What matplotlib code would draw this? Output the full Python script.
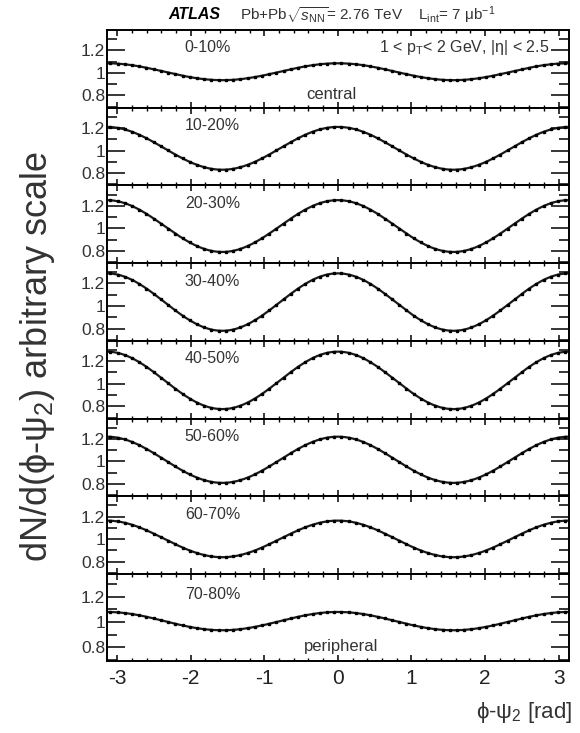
import numpy as np
import matplotlib
matplotlib.use("Agg")
import matplotlib.pyplot as plt
from matplotlib.ticker import MultipleLocator, FixedLocator

plt.rcParams['font.family'] = ['Liberation Sans', 'DejaVu Sans']
plt.rcParams['mathtext.fontset'] = 'custom'
plt.rcParams['mathtext.rm'] = 'Liberation Sans'
plt.rcParams['mathtext.it'] = 'Liberation Sans:italic'
plt.rcParams['mathtext.bf'] = 'Liberation Sans:bold'
plt.rcParams['axes.unicode_minus'] = False

# centrality bins, value of the modulation at phi-psi2 = 0 (peak) and at +-pi/2 (trough)
centrality = ['0-10%', '10-20%', '20-30%', '30-40%', '40-50%', '50-60%', '60-70%', '70-80%']
peak = [1.085, 1.21, 1.25, 1.29, 1.285, 1.22, 1.165, 1.08]
trough = [0.935, 0.83, 0.79, 0.78, 0.775, 0.81, 0.84, 0.935]
n_bins = 64

yticks = [0.8, 1.0, 1.2]
ytick_labels = ['0.8', '1', '1.2']
xticks = [-3, -2, -1, 0, 1, 2, 3]

fig = plt.figure(figsize=(5.8, 7.33), dpi=100)
gs = fig.add_gridspec(8, 1, height_ratios=[1]*7 + [1.12], hspace=0,
                      left=0.184, right=0.981, top=0.959, bottom=0.098)

edges = np.linspace(-np.pi, np.pi, n_bins + 1)
phi = 0.5*(edges[1:] + edges[:-1])
xx = np.linspace(-np.pi, np.pi, 400)

axes = []
for i in range(8):
    ax = fig.add_subplot(gs[i])
    axes.append(ax)
    mid = 0.5*(peak[i] + trough[i])
    amp = 0.5*(peak[i] - trough[i])
    ax.plot(xx, mid + amp*np.cos(2*xx), color='#1a1a1a', lw=1.6)
    ax.plot(phi, mid + amp*np.cos(2*phi), ls='none', marker='s', ms=2,
            color='black')
    ax.set_xlim(-np.pi, np.pi)
    ax.set_ylim(0.69, 1.38)
    ax.yaxis.set_major_locator(FixedLocator(yticks))
    ax.set_yticklabels(ytick_labels)
    ax.yaxis.set_minor_locator(FixedLocator([0.7, 0.9, 1.1, 1.3]))
    ax.xaxis.set_major_locator(FixedLocator(xticks))
    ax.xaxis.set_minor_locator(MultipleLocator(0.2))
    ax.tick_params(axis='y', which='major', direction='in', length=13, width=1.1,
                   left=True, right=True, labelsize=12.5, pad=1, labelcolor='#333333')
    ax.tick_params(axis='y', which='minor', direction='in', length=7, width=1.1,
                   left=True, right=True)
    ax.tick_params(axis='x', which='major', direction='in', length=4, width=1.1,
                   top=True, bottom=True)
    ax.tick_params(axis='x', which='minor', direction='in', length=2, width=1,
                   top=True, bottom=True)
    for s in ax.spines.values():
        s.set_linewidth(1.4)
    if i < 7:
        ax.tick_params(axis='x', labelbottom=False)
    else:
        ax.tick_params(axis='x', labelsize=15, pad=6, labelcolor='#222222')
    ax.text(0.169, 0.77, centrality[i], transform=ax.transAxes, fontsize=11.5,
            va='center', ha='left', color='#333333')

axes[0].text(0.958, 0.77, r'1 < p$_\mathregular{T}$< 2 GeV, |η| < 2.5',
             transform=axes[0].transAxes, fontsize=11.5, ha='right', va='center',
             color='#333333')
axes[0].text(0.487, 0.17, 'central', transform=axes[0].transAxes, fontsize=12,
             ha='center', va='center', color='#333333')
axes[7].text(0.507, 0.17, 'peripheral', transform=axes[7].transAxes, fontsize=12,
             ha='center', va='center', color='#333333')

fig.text(0.29, 0.980, 'ATLAS', fontsize=11.5, fontweight='bold', style='italic',
         ha='left', va='center')
fig.text(0.414, 0.980,
         r'Pb+Pb$\sqrt{s_\mathregular{NN}}$= 2.76 TeV    L$_\mathregular{int}$= 7 μb$^{-1}$',
         fontsize=11, ha='left', va='center', color='#333333')

fig.text(0.064, 0.513, r'dN/d(ϕ-ψ$_2$) arbitrary scale', rotation=90, fontsize=26,
         ha='center', va='center', color='#333333')
fig.text(0.986, 0.028, r'ϕ-ψ$_2$ [rad]', fontsize=16, ha='right', va='center',
         color='#333333')

fig.savefig('out.png', dpi=100)
